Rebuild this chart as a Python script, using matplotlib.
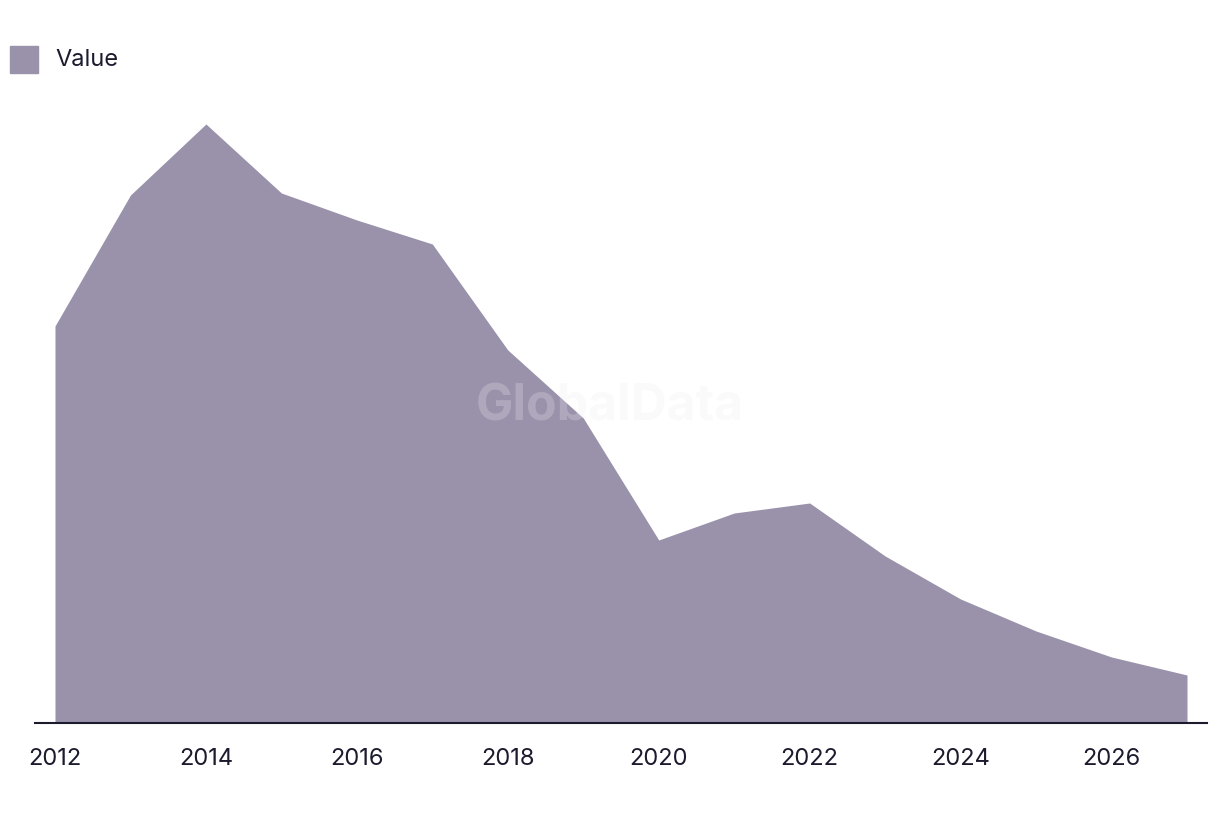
import matplotlib
matplotlib.use("Agg")
import matplotlib.pyplot as plt
from matplotlib.patches import Rectangle

years = [2012, 2013, 2014, 2015, 2016, 2017, 2018, 2019, 2020, 2021, 2022, 2023, 2024, 2025, 2026, 2027]
values = [397, 528, 599, 530, 503, 479, 373, 305, 183, 210, 220, 167, 124, 92, 66, 48]
tick_years = [2012, 2014, 2016, 2018, 2020, 2022, 2024, 2026]
series_name = "Value"

fill_color = "#9a91aa"
text_color = "#1c1b2e"

plt.rcParams['font.family'] = ['Inter', 'DejaVu Sans']

W, H = 1220, 814
fig = plt.figure(figsize=(W / 100, H / 100), dpi=100)
ax = fig.add_axes([35 / W, 1 - 723 / H, (1207 - 35) / W, (723 - 80) / H])

ax.fill_between(years, values, 0, color=fill_color, linewidth=0)
ax.set_xlim(2012 - 20 / 75.47, 2027 + 20 / 75.47)
ax.set_ylim(0, 643)

for s in ['top', 'right', 'left']:
    ax.spines[s].set_visible(False)
ax.spines['bottom'].set_color(text_color)
ax.spines['bottom'].set_linewidth(1.5)
ax.set_yticks([])
ax.set_xticks(tick_years)
ax.set_xticklabels([str(y) for y in tick_years], fontsize=17, color=text_color)
ax.tick_params(axis='x', length=0, pad=18)

# Legend
fig.patches.append(Rectangle((10 / W, 1 - 73 / H), 28 / W, 27 / H,
                             transform=fig.transFigure, color=fill_color))
fig.text(55 / W, 1 - 60 / H, series_name, fontsize=17, color=text_color,
         va='center', ha='left')

# Watermark
fig.text(610 / W, 1 - 407 / H, "GlobalData", fontsize=36, fontweight='bold',
         color='#f0eef2', alpha=0.25, ha='center', va='center', zorder=10)

fig.savefig("out.png", dpi=100, facecolor='white')
